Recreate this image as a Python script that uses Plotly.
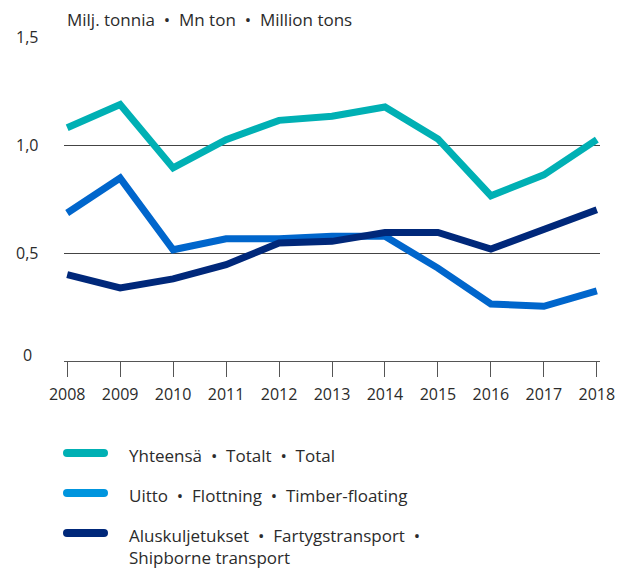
import plotly.graph_objects as go

years = [2008, 2009, 2010, 2011, 2012, 2013, 2014, 2015, 2016, 2017, 2018]
total = [1.08, 1.187, 0.894, 1.025, 1.114, 1.133, 1.176, 1.028, 0.765, 0.862, 1.025]
floating = [0.685, 0.847, 0.515, 0.566, 0.566, 0.577, 0.577, 0.43, 0.264, 0.253, 0.325]
shipborne = [0.40, 0.338, 0.38, 0.446, 0.546, 0.554, 0.595, 0.595, 0.518, 0.608, 0.70]

names = ["Yhteensä  •  Totalt  •  Total",
         "Uitto  •  Flottning  •  Timber-floating",
         "Aluskuljetukset  •  Fartygstransport  •<br>Shipborne transport"]
line_colors = ["#00B0B4", "#0066CC", "#00287A"]
swatch_colors = ["#00B0B4", "#0095DE", "#00287A"]
series = [total, floating, shipborne]

y_tickvals = [0, 0.5, 1.0, 1.5]
y_ticktext = ["0", "0,5", "1,0", "1,5"]

FONT = "Open Sans"
TXT = "#2b2b2b"

fig = go.Figure()
for vals, col, nm in zip(series, line_colors, names):
    fig.add_trace(go.Scatter(x=years, y=vals, mode="lines", name=nm,
                             line=dict(color=col, width=7), showlegend=False))

OFF = 8  # page body margin
W, H = 627 - OFF, 571 - OFF
L, R, T, B = 64 - OFF, 27, 37 - OFF, 210
pw, ph = W - L - R, H - T - B

def px(x):
    return (x - OFF - L) / pw

def py(y):
    return (H - B - (y - OFF)) / ph

shapes = []
annotations = []
swatch_y = [453, 493, 533]
text_y = [455, 495, 535]
for i in range(3):
    path = "M-18.5,-4 L18.5,-4 Q22.5,-4 22.5,0 Q22.5,4 18.5,4 L-18.5,4 Q-22.5,4 -22.5,0 Q-22.5,-4 -18.5,-4 Z"
    shapes.append(dict(type="path", xref="paper", yref="paper",
                       xsizemode="pixel", ysizemode="pixel",
                       xanchor=px(85.5), yanchor=py(swatch_y[i]),
                       path=path, fillcolor=swatch_colors[i], line=dict(width=0)))
    annotations.append(dict(xref="paper", yref="paper", x=px(127), y=py(text_y[i] - 13),
                            xanchor="left", yanchor="top", text=names[i], showarrow=False,
                            align="left", font=dict(family=FONT, size=17, color=TXT)))

annotations.append(dict(xref="paper", yref="paper", x=px(65), y=py(20), xanchor="left",
                        yanchor="middle", text="Milj. tonnia  •  Mn ton  •  Million tons",
                        showarrow=False, font=dict(family=FONT, size=17, color=TXT)))

# y tick labels, centred in the left gutter
for v, t in zip(y_tickvals, y_ticktext):
    annotations.append(dict(xref="paper", yref="y", x=px(27), y=v, xanchor="center",
                            yanchor="middle", text=t, showarrow=False,
                            yshift=6 if v == 0 else 0,
                            font=dict(family=FONT, size=16, color=TXT)))

fig.update_layout(
    width=W, height=H,
    margin=dict(l=L, r=R, t=T, b=B, pad=0),
    paper_bgcolor="white", plot_bgcolor="white",
    font=dict(family=FONT, size=16, color=TXT),
    shapes=shapes, annotations=annotations,
    showlegend=False,
)
fig.update_xaxes(range=[2007.94, 2018.06], tickvals=years, ticktext=[str(y) for y in years],
                 showgrid=False, zeroline=False, showline=True, linecolor="#555", linewidth=1,
                 ticks="outside", ticklen=15, tickcolor="#555", tickwidth=1,
                 ticklabelstandoff=4, tickfont=dict(family=FONT, size=16, color=TXT))
fig.update_yaxes(range=[0, 1.5], tickvals=y_tickvals, showticklabels=False,
                 showgrid=True, gridcolor="#444", gridwidth=1, zeroline=False, showline=False,
                 ticks="")

fig.write_html("out.html")
